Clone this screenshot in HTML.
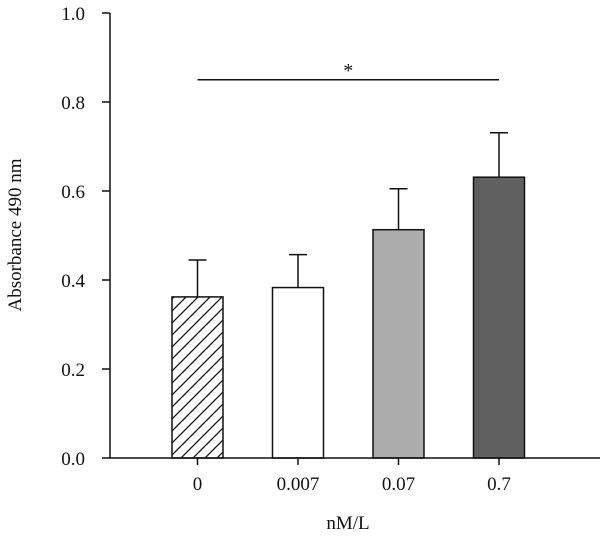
<!DOCTYPE html>
<html><head><meta charset="utf-8">
<style>
html,body{margin:0;padding:0;background:#fff;}
svg{display:block;font-family:"Liberation Serif",serif;}
</style></head>
<body>
<svg id="chart" width="600" height="537" viewBox="0 0 600 537" xmlns="http://www.w3.org/2000/svg">
<defs>
<pattern id="hatch" patternUnits="userSpaceOnUse" width="12" height="12" patternTransform="translate(0,3)">
<path d="M-3,3 L3,-3 M0,12 L12,0 M9,15 L15,9" stroke="#111" stroke-width="1.3"/>
</pattern>
</defs>
<g id="plot"></g>
</svg>
<script>
const categories = ["0", "0.007", "0.07", "0.7"];
const means = [0.362, 0.383, 0.513, 0.631];
const errTops = [0.445, 0.457, 0.605, 0.731];
const yTicks = [0.0, 0.2, 0.4, 0.6, 0.8, 1.0];
const yTickLabels = ["0.0", "0.2", "0.4", "0.6", "0.8", "1.0"];
const fills = ["url(#hatch)", "#ffffff", "#acacac", "#606060"];
const sigFrom = 0, sigTo = 3, sigLevel = 0.85;

const NS = "http://www.w3.org/2000/svg";
const g = document.getElementById("plot");
const X0 = 110, X1 = 600, Y0 = 458, YTOP = 13;
const yScale = v => Y0 - (Y0 - YTOP) * v;
const xCenter = i => 197.5 + i * 100.5;
const BW = 51;
function el(tag, attrs, text) {
  const e = document.createElementNS(NS, tag);
  for (const k in attrs) e.setAttribute(k, attrs[k]);
  if (text !== undefined) e.textContent = text;
  g.appendChild(e);
  return e;
}
// bars
categories.forEach((c, i) => {
  const cx = xCenter(i);
  const ytop = yScale(errTops[i]);
  const e = el("path", {d: `M${cx},${yScale(means[i])} V${ytop} M${cx - 9},${ytop} H${cx + 9}`, stroke: "#111", "stroke-width": 1.5, fill: "none"});
  
  
  const r = el("rect", {x: cx - BW / 2, y: yScale(means[i]), width: BW, height: Y0 - yScale(means[i]), fill: fills[i], stroke: "#111", "stroke-width": 1.5});
  
  
  const t = el("line", {x1: cx, x2: cx, y1: Y0, y2: Y0 + 7, stroke: "#111", "stroke-width": 1.5});
  
  
  const l = el("text", {x: cx, y: 490, "text-anchor": "middle", "font-size": 19, fill: "#111"}, c);
  
  
});
// axes
const ya = el("line", {x1: X0, x2: X0, y1: YTOP, y2: Y0, stroke: "#111", "stroke-width": 1.5});


const xa = el("line", {x1: X0, x2: X1, y1: Y0, y2: Y0, stroke: "#111", "stroke-width": 1.5});


yTicks.forEach((v, i) => {
  const y = yScale(v);
  const t = el("line", {x1: X0 - 8, x2: X0, y1: y, y2: y, stroke: "#111", "stroke-width": 1.5});
  
  
  const l = el("text", {x: 85, y: y + 7, "text-anchor": "end", "font-size": 19, fill: "#111"}, yTickLabels[i]);
  
  
});
// significance
const sy = yScale(sigLevel);
const sl = el("line", {x1: xCenter(sigFrom), x2: xCenter(sigTo), y1: sy, y2: sy, stroke: "#111", "stroke-width": 1.5});


const st = el("text", {x: (xCenter(sigFrom) + xCenter(sigTo)) / 2, y: sy - 3, "text-anchor": "middle", "font-size": 20, fill: "#111"}, "*");


// titles
const xt = el("text", {x: 348, y: 529, "text-anchor": "middle", "font-size": 19, fill: "#111"}, "nM/L");


const yt = el("text", {x: 0, y: 0, transform: "translate(21,235) rotate(-90)", "text-anchor": "middle", "font-size": 19, fill: "#111"}, "Absorbance 490 nm");


</script>
</body></html>
